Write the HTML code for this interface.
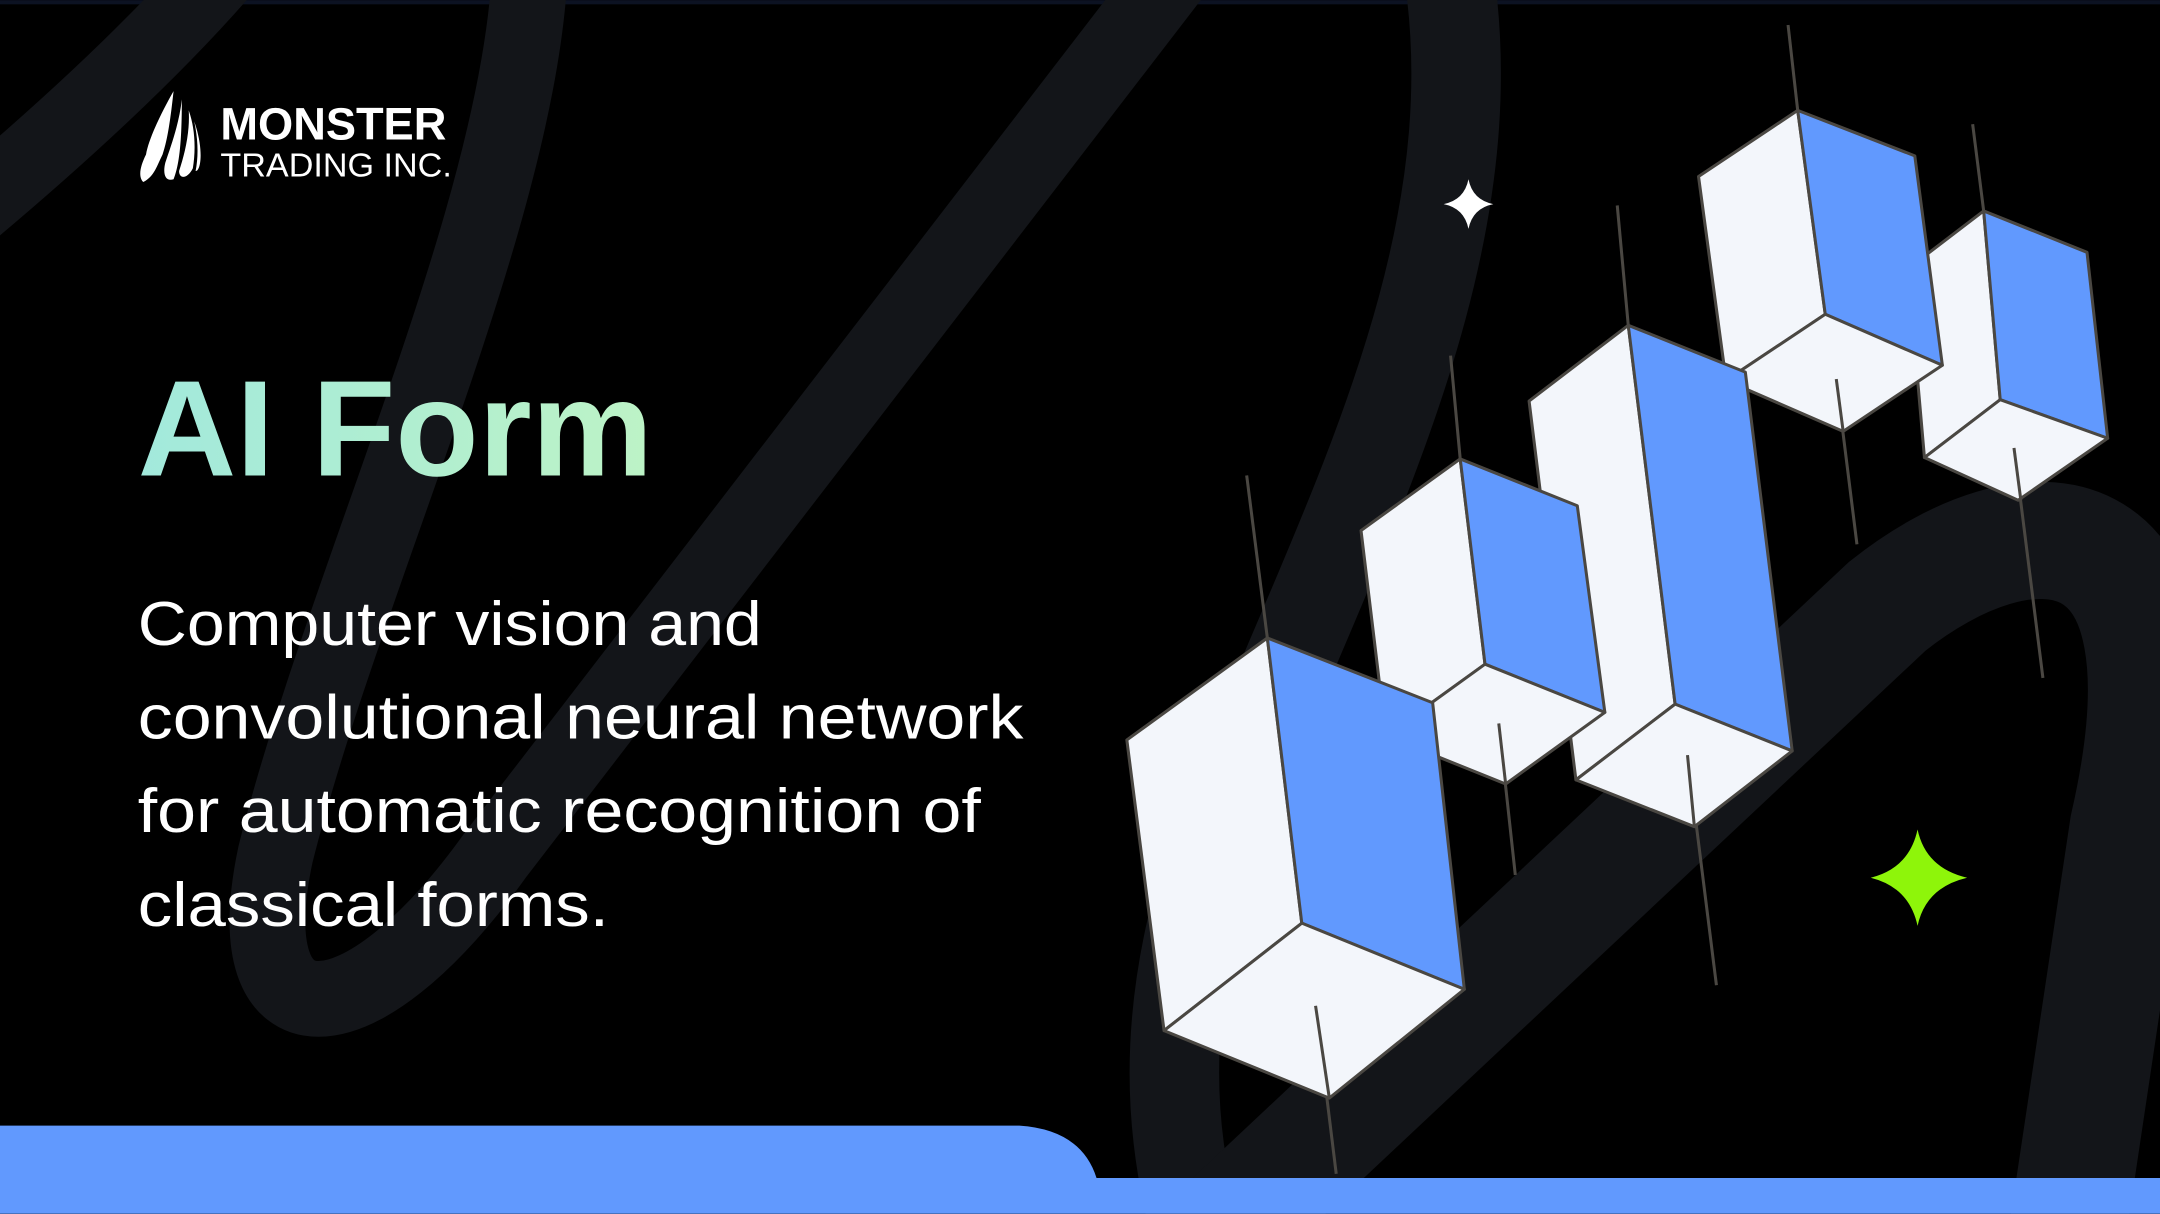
<!DOCTYPE html>
<html><head><meta charset="utf-8"><style>
html,body{margin:0;padding:0;background:#000;}
svg{display:block;}
</style></head><body>
<svg width="2160" height="1214" viewBox="0 0 1568 881" xmlns="http://www.w3.org/2000/svg">
<defs>
<linearGradient id="tg" x1="0" x2="1" y1="0" y2="0">
<stop offset="0" stop-color="#a2e9dc"/><stop offset="1" stop-color="#bdf3c6"/>
</linearGradient>
</defs>
<rect width="1568" height="881" fill="#000"/>
<rect width="1568" height="3" fill="#0c1222"/>
<g fill="none" stroke="#131519" stroke-linecap="round">
<path d="M -30 160 Q 90 60 160 -20" stroke-width="55"/>
<path d="M 385 -30 C 380 150 250 420 200 620 C 170 760 260 760 360 620 L 860 -30" stroke-width="55"/>
<path d="M 1050 -30 C 1090 200 950 420 880 620 C 840 740 850 830 870 900" stroke-width="65"/>
<path d="M 880 900 L 1370 440 C 1470 360 1600 360 1545 600 L 1500 900" stroke-width="85"/>
</g>
<!-- logo -->
<g fill="#fff">
<path d="M126 66 C118 80 108 100 106 112 C102 120 100 128 104 132 C112 128 114 120 118 112 C122 100 124 84 126 66 Z"/>
<path d="M132 72 C130 90 124 106 120 118 C118 126 120 132 126 130 C130 120 132 104 132 72 Z"/>
<path d="M137 80 C138 96 134 112 130 124 C130 130 136 130 140 122 C142 110 142 94 137 80 Z"/>
<path d="M141 88 C144 102 144 114 142 124 C146 124 148 108 141 88 Z"/>
</g>
<text x="160" y="101" font-family="Liberation Sans, sans-serif" font-weight="bold" font-size="33" fill="#fff" textLength="164" lengthAdjust="spacingAndGlyphs">MONSTER</text>
<text x="160" y="128" font-family="Liberation Sans, sans-serif" font-size="24" fill="#fff" textLength="168" lengthAdjust="spacingAndGlyphs">TRADING INC.</text>
<!-- title -->
<text x="100" y="345" font-family="Liberation Sans, sans-serif" font-weight="bold" font-size="99" fill="url(#tg)" textLength="374" lengthAdjust="spacingAndGlyphs">AI Form</text>
<g font-family="Liberation Sans, sans-serif" font-size="45" fill="#fff">
<text x="100" y="468" textLength="453" lengthAdjust="spacingAndGlyphs">Computer vision and</text>
<text x="100" y="536" textLength="643" lengthAdjust="spacingAndGlyphs">convolutional neural network</text>
<text x="100" y="604" textLength="612" lengthAdjust="spacingAndGlyphs">for automatic recognition of</text>
<text x="100" y="672" textLength="342" lengthAdjust="spacingAndGlyphs">classical forms.</text>
</g>
<!-- stars -->
<path d="M1066 130 Q1069 145 1084 148 Q1069 151 1066 166 Q1063 151 1048 148 Q1063 145 1066 130 Z" fill="#fff"/>
<path d="M1392 602 Q1398 630 1428 637 Q1398 644 1392 672 Q1386 644 1358 637 Q1386 630 1392 602 Z" fill="#8ef50a"/>
<!-- cubes -->
<g stroke="#4a4742" stroke-width="2.2" stroke-linejoin="round">
<!-- cube5 -->
<line x1="1432" y1="90" x2="1440" y2="153"/>
<line x1="1462" y1="325" x2="1483" y2="492"/>
<polygon points="1385,195 1440,153 1452,290 1397,332" fill="#f3f6fb"/>
<polygon points="1440,153 1515,183 1530,318 1452,290" fill="#6199fe"/>
<polygon points="1397,332 1452,290 1530,318 1465,363" fill="#f3f6fb"/>
<line x1="1462" y1="325" x2="1467" y2="363"/>
<!-- cube4 -->
<line x1="1298" y1="18" x2="1305" y2="80"/>
<line x1="1333" y1="275" x2="1348" y2="395"/>
<polygon points="1233,128 1305,80 1325,228 1253,276" fill="#f3f6fb"/>
<polygon points="1305,80 1390,113 1410,265 1325,228" fill="#6199fe"/>
<polygon points="1253,276 1325,228 1410,265 1338,313" fill="#f3f6fb"/>
<line x1="1333" y1="275" x2="1338" y2="313"/>
<!-- cube3 -->
<line x1="1174" y1="149" x2="1182" y2="236"/>
<line x1="1225" y1="548" x2="1246" y2="715"/>
<polygon points="1110,291 1182,236 1216,511 1144,566" fill="#f3f6fb"/>
<polygon points="1182,236 1267,270 1301,545 1216,511" fill="#6199fe"/>
<polygon points="1144,566 1216,511 1301,545 1230,600" fill="#f3f6fb"/>
<line x1="1225" y1="548" x2="1230" y2="600"/>
<!-- cube2 -->
<line x1="1053" y1="258" x2="1060" y2="333"/>
<line x1="1088" y1="525" x2="1100" y2="635"/>
<polygon points="988,385 1060,333 1078,482 1006,534" fill="#f3f6fb"/>
<polygon points="1060,333 1145,367 1165,517 1078,482" fill="#6199fe"/>
<polygon points="1006,534 1078,482 1165,517 1093,569" fill="#f3f6fb"/>
<line x1="1088" y1="525" x2="1093" y2="569"/>
<!-- cube1 -->
<line x1="905" y1="345" x2="920" y2="463"/>
<line x1="955" y1="730" x2="970" y2="852"/>
<polygon points="818,537 920,463 945,670 845,748" fill="#f3f6fb"/>
<polygon points="920,463 1040,510 1063,718 945,670" fill="#6199fe"/>
<polygon points="845,748 945,670 1063,718 965,797" fill="#f3f6fb"/>
<line x1="955" y1="730" x2="965" y2="797"/>
</g>
<!-- bottom bar -->
<path d="M0 817 L740 817 Q785 820 796 855 L1568 855 L1568 881 L0 881 Z" fill="#6199fe"/>
</svg>
</body></html>
